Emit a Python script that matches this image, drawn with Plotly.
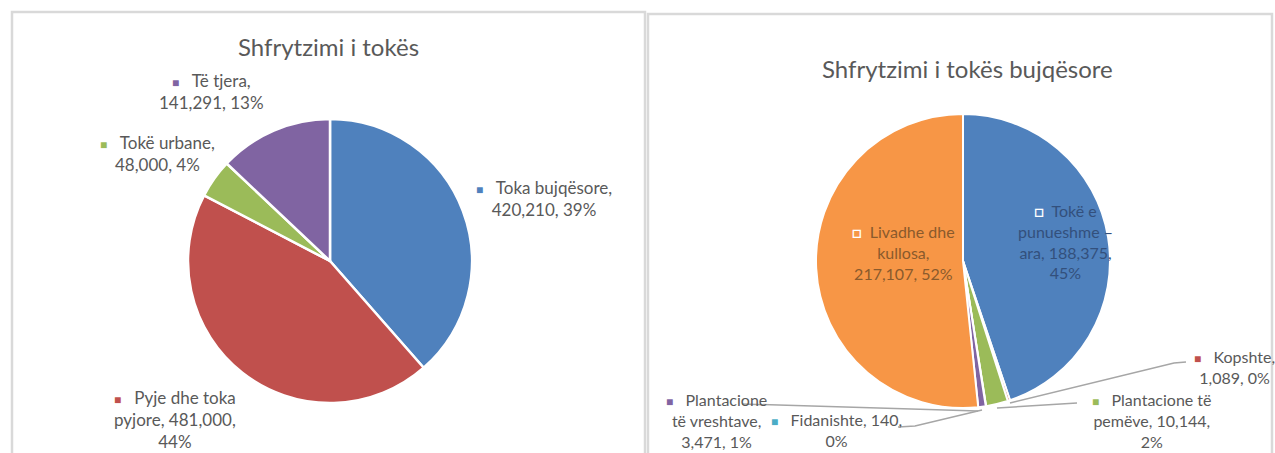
import textwrap
import plotly.graph_objects as go

# left chart: land use
land_names = ["Toka bujqësore", "Pyje dhe toka pyjore", "Tokë urbane", "Të tjera"]
land_values = [420210, 481000, 48000, 141291]
land_colors = ["#4F81BD", "#C0504D", "#9BBB59", "#8064A2"]

# right chart: agricultural land use
agri_names = ["Tokë e punueshme – ara", "Kopshte", "Plantacione të pemëve",
              "Fidanishte", "Plantacione të vreshtave", "Livadhe dhe kullosa"]
agri_values = [188375, 1089, 10144, 140, 3471, 217107]
agri_colors = ["#4F81BD", "#C0504D", "#9BBB59", "#4BACC6", "#8064A2", "#F79646"]

title_left = "Shfrytzimi i tokës"
title_right = "Shfrytzimi i tokës bujqësore"

W, H = 1275, 453
FONT = "Lato, 'Liberation Sans', sans-serif"
GREY = "#595959"


def fx(x):
    return x / W


def fy(y):
    return 1 - y / H


def label_text(name, value, total, width, color, inside=False):
    pct = round(value / total * 100)
    lines = textwrap.wrap(f"{name}, {value:,}, {pct}%", width=width)
    if inside:
        mark = ("<span style='color:white;font-size:16px'><b>□</b></span>"
                "&nbsp;&nbsp;")
    else:
        mark = f"<span style='color:{color};font-size:12px'>■</span>&nbsp;&nbsp;&nbsp;"
    lines[0] = mark + lines[0]
    return "<br>".join(lines)


fig = go.Figure()

fig.add_trace(go.Pie(
    labels=land_names, values=land_values, sort=False,
    direction="clockwise", rotation=0,
    marker=dict(colors=land_colors, line=dict(color="white", width=2.5)),
    textinfo="none", hoverinfo="label+value+percent", showlegend=False,
    domain=dict(x=[fx(330 - 142), fx(330 + 142)], y=[fy(261 + 142), fy(261 - 142)]),
))

fig.add_trace(go.Pie(
    labels=agri_names, values=agri_values, sort=False,
    direction="clockwise", rotation=0,
    marker=dict(colors=agri_colors, line=dict(color="white", width=2)),
    textinfo="none", hoverinfo="label+value+percent", showlegend=False,
    domain=dict(x=[fx(963 - 147), fx(963 + 147)], y=[fy(261 + 147), fy(261 - 147)]),
))

annotations = [
    dict(x=fx(328), y=fy(47), text=title_left, font=dict(size=24, color=GREY)),
    dict(x=fx(968), y=fy(68), text=title_right, font=dict(size=24, color=GREY)),
]

land_total = sum(land_values)
land_pos = [(544, 198, 16), (175, 419, 16), (157, 154, 12), (212, 91, 12)]
for name, val, col, (x, y, w) in zip(land_names, land_values, land_colors, land_pos):
    annotations.append(dict(x=fx(x), y=fy(y),
                            text=label_text(name, val, land_total, w, col),
                            font=dict(size=17, color=GREY)))

agri_total = sum(agri_values)
agri_pos = [(1065, 241, 13, True, "#33507c"), (1234, 367, 9, False, GREY),
            (1152, 420, 15, False, GREY), (836, 430, 16, False, GREY),
            (716, 420, 13, False, GREY), (903, 253, 12, True, "#8a5a2c")]
for name, val, col, (x, y, w, inside, tc) in zip(agri_names, agri_values, agri_colors, agri_pos):
    annotations.append(dict(x=fx(x), y=fy(y),
                            text=label_text(name, val, agri_total, w, col, inside),
                            font=dict(size=16, color=tc)))

for a in annotations:
    a.update(xref="paper", yref="paper", showarrow=False,
             xanchor="center", yanchor="middle", align="center")


def path(points):
    return "M " + " L ".join(f"{fx(x)},{fy(y)}" for x, y in points)


shapes = [
    # chart frames
    dict(type="rect", x0=fx(12), x1=fx(645), y0=fy(12), y1=fy(470),
         line=dict(color="#D9D9D9", width=2.5)),
    dict(type="rect", x0=fx(648), x1=fx(1272), y0=fy(14), y1=fy(470),
         line=dict(color="#D9D9D9", width=2.5)),
]
# leader lines of the small slices
leaders = [
    [(1186, 362), (1174, 363), (1010, 403)],
    [(1077, 403), (997, 408)],
    [(742, 404), (978, 411)],
    [(898, 427), (915, 426), (982, 410)],
]
for pts in leaders:
    shapes.append(dict(type="path", path=path(pts),
                       line=dict(color="#A6A6A6", width=1.5)))
for s in shapes:
    s.setdefault("xref", "paper")
    s.setdefault("yref", "paper")

fig.update_layout(
    width=W, height=H,
    margin=dict(l=0, r=0, t=0, b=0),
    paper_bgcolor="white", plot_bgcolor="white",
    font=dict(family=FONT, color=GREY),
    annotations=annotations,
    shapes=shapes,
)

fig.write_html("out.html",
               config={"displayModeBar": False},
               post_script="document.body.style.margin='0';"
                           "document.body.style.overflow='hidden';")
